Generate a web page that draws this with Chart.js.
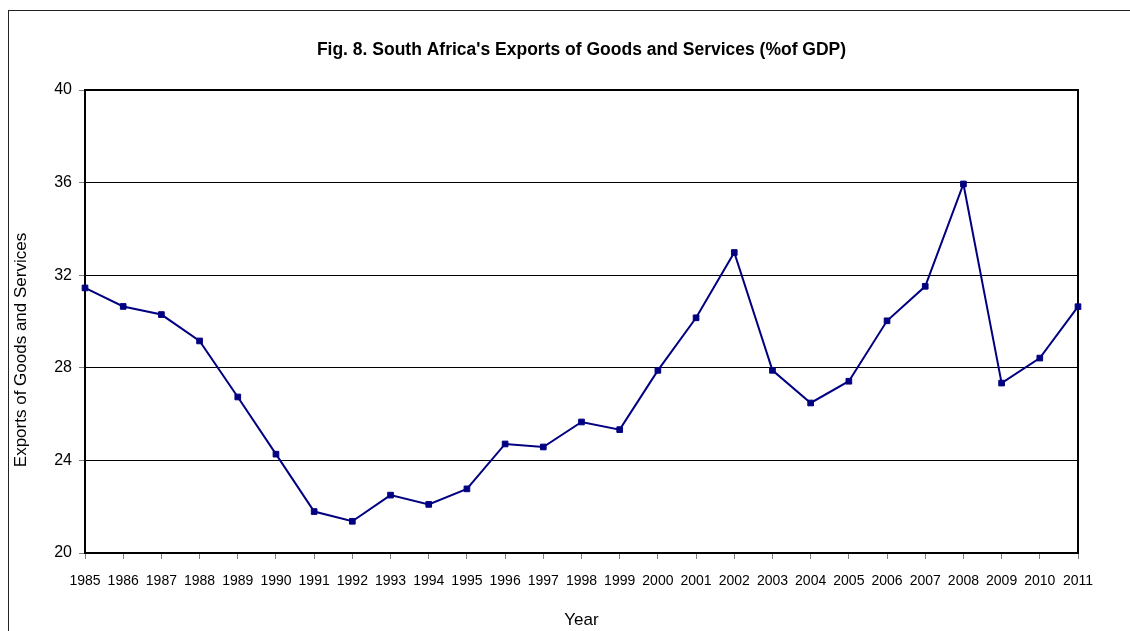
<!DOCTYPE html>
<html>
<head>
  <title>Fig. 8. South Africa's Exports of Goods and Services</title>
  <script src="https://cdn.jsdelivr.net/npm/chart.js"></script>
  <style>
    html, body {
      margin: 0;
      padding: 0;
      background: #fff;
    }
    #exportsChart {
      display: block;
    }
  </style>
</head>
<body>
  <canvas id="exportsChart" width="1130" height="631"></canvas>
  <script>
    // Data
    const years = ["1985", "1986", "1987", "1988", "1989", "1990", "1991", "1992", "1993",
      "1994", "1995", "1996", "1997", "1998", "1999", "2000", "2001", "2002", "2003",
      "2004", "2005", "2006", "2007", "2008", "2009", "2010", "2011"];
    const exportsPct = [31.45, 30.65, 30.3, 29.16, 26.74, 24.27, 21.79, 21.37, 22.5,
      22.1, 22.77, 24.71, 24.58, 25.66, 25.33, 27.89, 30.16, 32.98, 27.89,
      26.48, 27.42, 30.03, 31.52, 35.94, 27.34, 28.42, 30.64];
    const yTicks = [20, 24, 28, 32, 36, 40];

    const ARIAL = "'Liberation Sans', Arial, sans-serif";

    // outer frame, thick plot box and the rotated y title
    const frame = {
      id: 'frame',
      beforeDatasetsDraw(chart) {
        const ctx = chart.ctx;
        const a = chart.chartArea;
        ctx.save();
        ctx.strokeStyle = "#000";
        ctx.lineWidth = 2;
        ctx.beginPath();
        ctx.moveTo(a.left, a.top);
        ctx.lineTo(a.right, a.top);
        ctx.lineTo(a.right, a.bottom);
        ctx.stroke();
        ctx.restore();
      },
      afterDraw(chart) {
        const ctx = chart.ctx;
        ctx.save();
        ctx.strokeStyle = "#222";
        ctx.lineWidth = 1;
        ctx.strokeRect(8.5, 10.5, 1200, 700);
        ctx.translate(21, 350);
        ctx.rotate(-Math.PI / 2);
        ctx.font = "17px " + ARIAL;
        ctx.fillStyle = "#000";
        ctx.textAlign = "center";
        ctx.textBaseline = "middle";
        ctx.fillText("Exports of Goods and Services", 0, 0);
        ctx.restore();
      }
    };

    const ctx = document.getElementById("exportsChart").getContext("2d");
    new Chart(ctx, {
      type: 'line',
      data: {
        labels: years,
        datasets: [{
          label: 'Exports of Goods and Services (% of GDP)',
          data: exportsPct,
          borderColor: "#000080",
          borderWidth: 2,
          backgroundColor: "#000080",
          pointStyle: 'rect',
          pointRadius: 4,
          pointBorderWidth: 1,
          pointBorderColor: "#000080",
          pointBackgroundColor: "#000080",
          tension: 0,
          fill: false
        }]
      },
      options: {
        responsive: false,
        animation: false,
        layout: {
          padding: { left: 0, right: 52, top: 0, bottom: 0 }
        },
        plugins: {
          legend: { display: false },
          tooltip: { enabled: false },
          title: {
            display: true,
            fullSize: false,
            text: "Fig. 8. South Africa's Exports of Goods and Services (%of GDP)",
            color: "#000",
            font: { family: ARIAL, size: 17.5, weight: "bold" },
            padding: { top: 39.5, bottom: 29.5 }
          }
        },
        scales: {
          x: {
            offset: false,
            afterFit(scale) { scale.height = 78; },
            grid: {
              drawOnChartArea: false,
              drawTicks: true,
              tickLength: 6,
              tickColor: "#808080"
            },
            border: { display: true, color: "#000", width: 2 },
            ticks: {
              color: "#000",
              font: { family: ARIAL, size: 14 },
              padding: 14,
              maxRotation: 0,
              autoSkip: false
            },
            title: {
              display: true,
              text: "Year",
              color: "#000",
              font: { family: ARIAL, size: 17 },
              padding: { top: 0, bottom: 0.8 }
            }
          },
          y: {
            min: 20,
            max: 40,
            afterFit(scale) { scale.width = 85; },
            afterBuildTicks(scale) {
              scale.ticks = yTicks.map(v => ({ value: v }));
            },
            grid: {
              color: "#000",
              lineWidth: 1,
              tickLength: 6,
              tickColor: "#808080"
            },
            border: { display: true, color: "#000", width: 2 },
            ticks: {
              color: "#000",
              font: { family: ARIAL, size: 16 },
              padding: 7
            }
          }
        }
      },
      plugins: [frame]
    });
  </script>
</body>
</html>
